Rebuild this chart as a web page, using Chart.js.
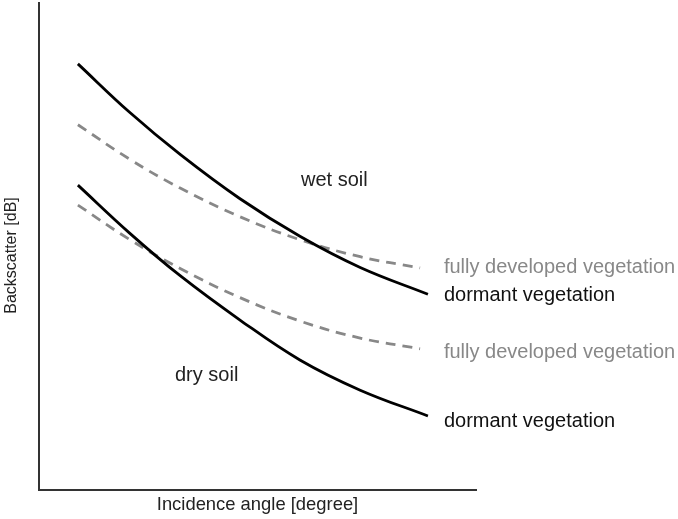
<!DOCTYPE html>
<html>
<head>
<meta charset="utf-8">
<script src="https://cdn.jsdelivr.net/npm/chart.js@4.4.0/dist/chart.umd.min.js"></script>
<style>
  html, body { margin: 0; padding: 0; background: #fff; }
  #wrap { width: 678px; height: 519px; }
</style>
</head>
<body>
<div id="wrap"><canvas id="c" width="678" height="519"></canvas></div>
<script>
// Incidence angle positions (arbitrary units, 0-100 along the axis)
const anglesSolid  = [8.9, 20.8, 32.3, 46.0, 59.7, 73.5, 89.0];
const anglesDashed = [8.9, 20.8, 32.3, 46.0, 59.7, 73.5, 87.2];

// Backscatter (arbitrary units, 0-100)
const wetDormant = [87.5, 77.5, 68.9, 59.8, 52.1, 45.7, 40.2];
const wetFull    = [75.0, 67.9, 62.0, 56.1, 51.4, 47.9, 45.6];
const dryDormant = [62.6, 52.7, 44.0, 34.9, 26.7, 20.5, 15.2];
const dryFull    = [58.5, 51.4, 45.5, 39.5, 34.7, 31.2, 29.0];

const xTitle = 'Incidence angle [degree]';
const yTitle = 'Backscatter [dB]';
const labelDormant = 'dormant vegetation';
const labelFull = 'fully developed vegetation';
const labelWet = 'wet soil';
const labelDry = 'dry soil';

const FONT = '"Liberation Sans", Arial, Helvetica, sans-serif';

function pts(xs, ys) { return xs.map((x, i) => ({ x: x, y: ys[i] })); }

const solid = { borderColor: '#000', borderWidth: 2.8, pointRadius: 0, tension: 0.4, fill: false };
const dashed = { borderColor: '#888', borderWidth: 2.8, borderDash: [10, 7], pointRadius: 0, tension: 0.4, fill: false };

const textPlugin = {
  id: 'curveLabels',
  afterDatasetsDraw(chart) {
    const ctx = chart.ctx;
    const xs = chart.scales.x, ys = chart.scales.y;
    const area = chart.chartArea;
    ctx.save();
    ctx.font = '20px ' + FONT;
    ctx.textBaseline = 'alphabetic';
    ctx.textAlign = 'left';
    const lx = xs.getPixelForValue(anglesSolid[anglesSolid.length - 1]) + 16;
    ctx.fillStyle = '#888';
    ctx.fillText(labelFull, lx, ys.getPixelForValue(wetFull[wetFull.length - 1]) + 5);
    ctx.fillText(labelFull, lx, ys.getPixelForValue(dryFull[dryFull.length - 1]) + 9);
    ctx.fillStyle = '#111';
    ctx.fillText(labelDormant, lx, ys.getPixelForValue(wetDormant[wetDormant.length - 1]) + 7);
    ctx.fillText(labelDormant, lx, ys.getPixelForValue(dryDormant[dryDormant.length - 1]) + 11);
    ctx.fillStyle = '#222';
    ctx.fillText(labelWet, 301, 186);
    ctx.fillText(labelDry, 175, 381);
    // y axis title
    ctx.font = '16px ' + FONT;
    ctx.fillStyle = '#222';
    ctx.translate(12, (area.top + area.bottom) / 2 + 9);
    ctx.rotate(-Math.PI / 2);
    ctx.textAlign = 'center';
    ctx.textBaseline = 'middle';
    ctx.fillText(yTitle, 0, 0);
    ctx.restore();
  }
};

new Chart(document.getElementById('c'), {
  type: 'line',
  data: {
    datasets: [
      Object.assign({ label: 'wet dormant', data: pts(anglesSolid, wetDormant) }, solid),
      Object.assign({ label: 'wet full', data: pts(anglesDashed, wetFull) }, dashed),
      Object.assign({ label: 'dry dormant', data: pts(anglesSolid, dryDormant) }, solid),
      Object.assign({ label: 'dry full', data: pts(anglesDashed, dryFull) }, dashed)
    ]
  },
  options: {
    responsive: false,
    animation: false,
    events: [],
    layout: { padding: { top: 3, right: 202, bottom: 0, left: 0 } },
    plugins: { legend: { display: false }, tooltip: { enabled: false } },
    scales: {
      x: {
        type: 'linear', min: 0, max: 100,
        grid: { display: false, drawTicks: false },
        border: { display: true, color: '#333', width: 2 },
        ticks: { display: false },
        title: { display: true, text: xTitle, color: '#222', font: { family: FONT, size: 18.4 }, padding: { top: 4, bottom: 3 } },
        afterFit(s) { s.height = 29; }
      },
      y: {
        type: 'linear', min: 0, max: 100,
        grid: { display: false, drawTicks: false },
        border: { display: true, color: '#333', width: 2 },
        ticks: { display: false },
        title: { display: false, text: yTitle },
        afterFit(s) { s.width = 39; }
      }
    }
  },
  plugins: [textPlugin]
});
</script>
</body>
</html>
